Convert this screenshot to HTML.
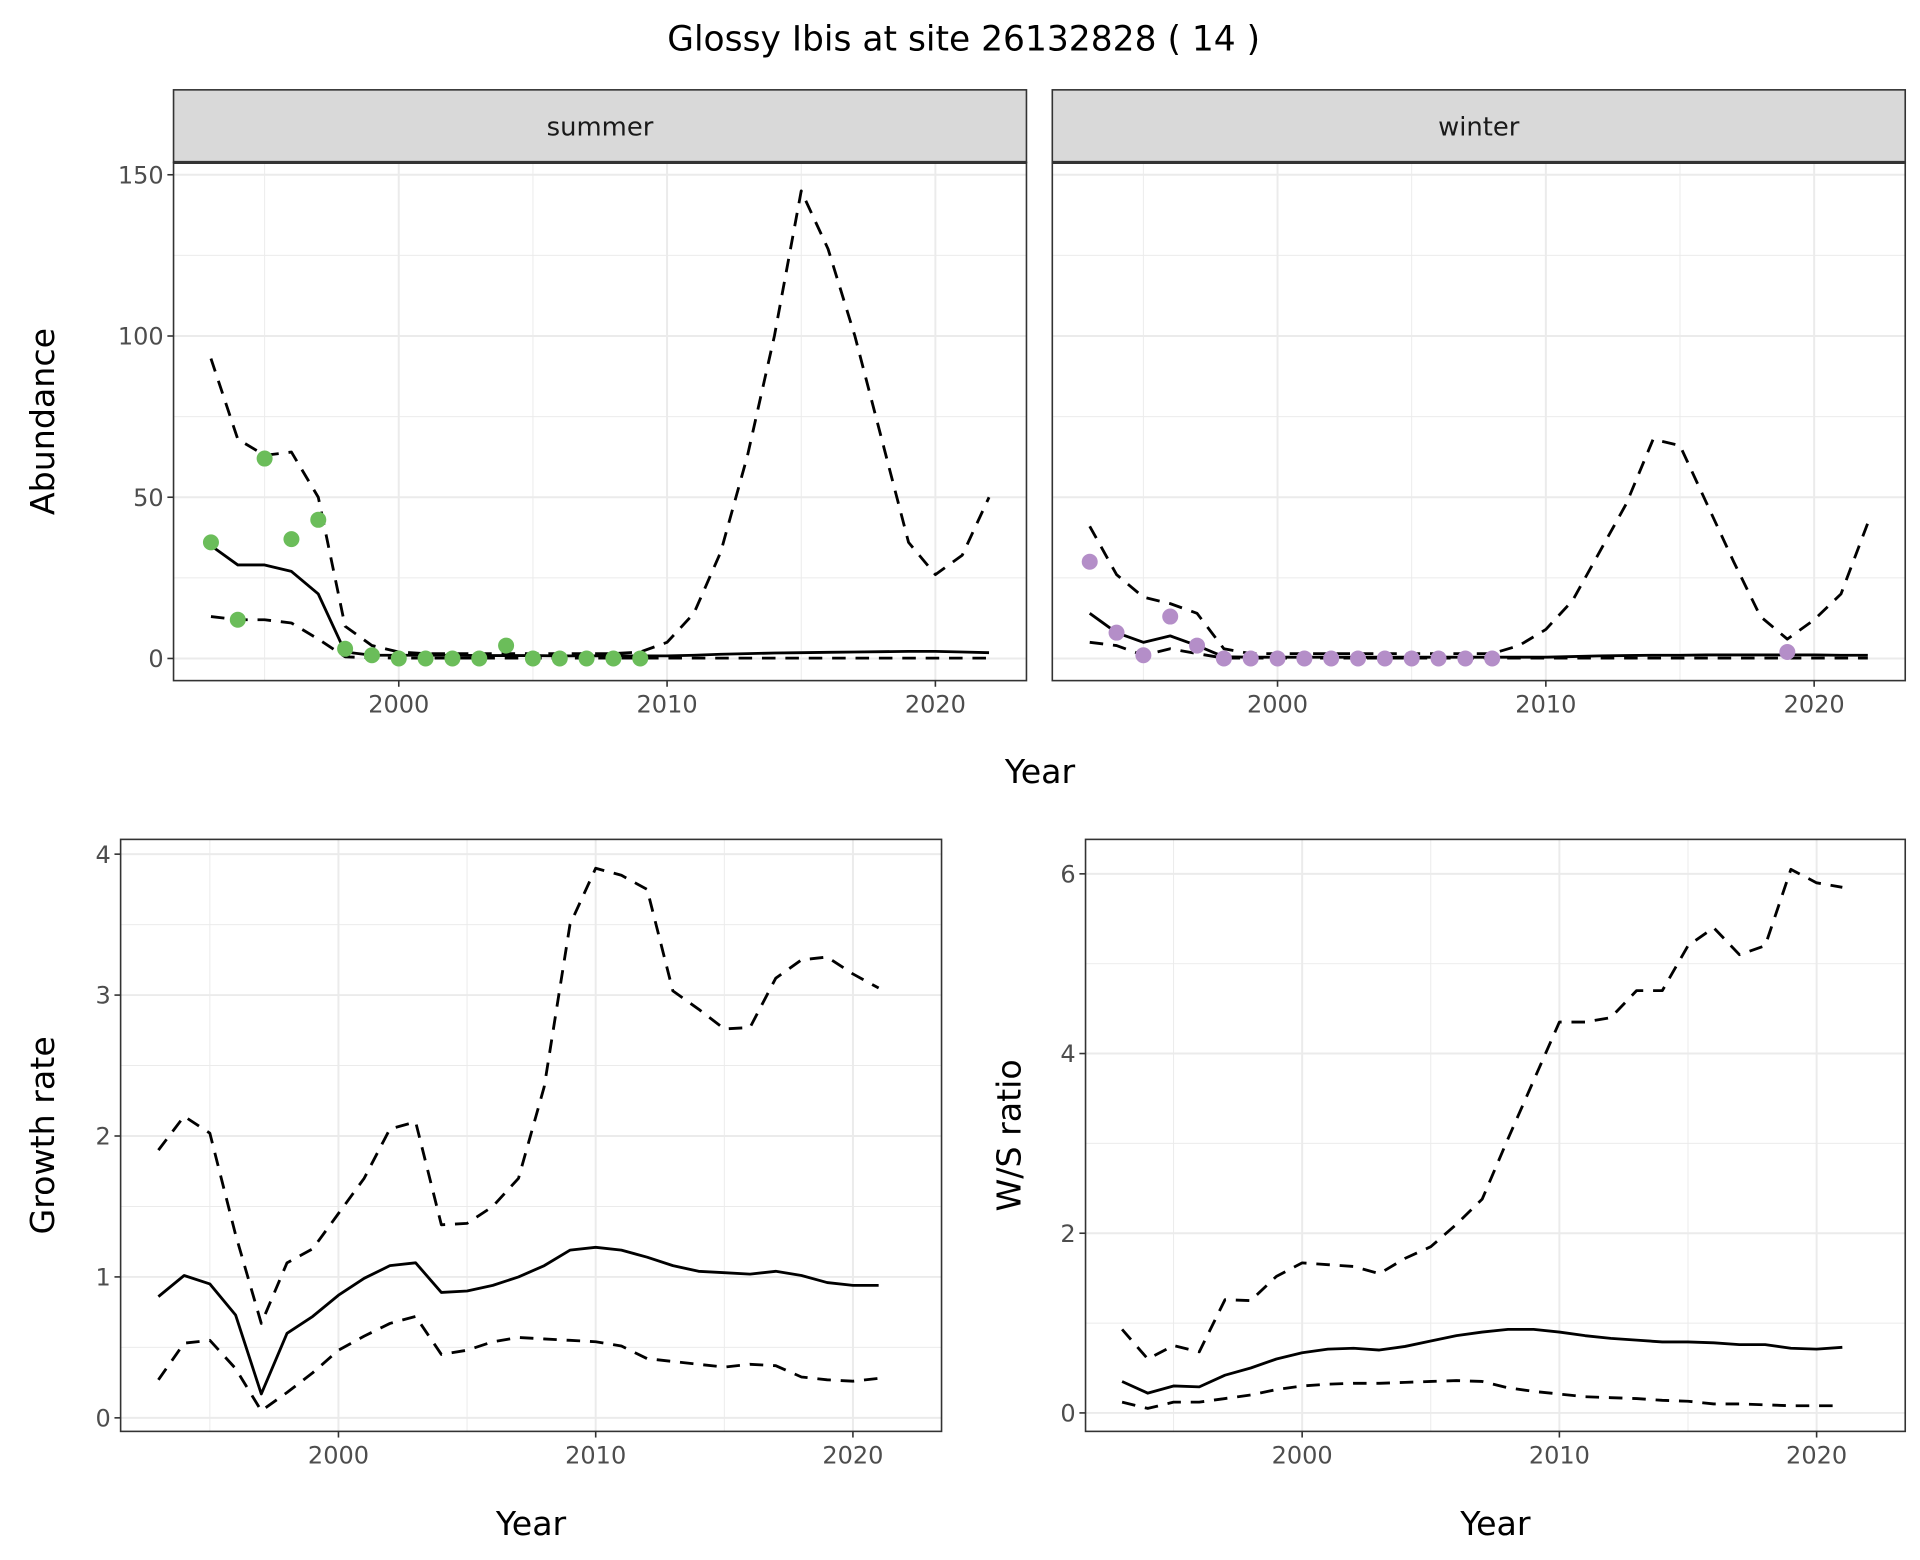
<!DOCTYPE html>
<html><head><meta charset="utf-8"><style>
html,body{margin:0;padding:0;background:#fff}
svg{display:block}
text{font-family:"DejaVu Sans","Liberation Sans",sans-serif}
</style></head><body>
<svg id="chart" width="1920" height="1560" viewBox="0 0 1560 1267.5" xmlns="http://www.w3.org/2000/svg">
<rect width="1560" height="1267.5" fill="#fff"/>
<text x="783" y="41" font-size="28" text-anchor="middle" fill="#000">Glossy Ibis at site 26132828 ( 14 )</text>
</svg>
<script>
const years = [];
for (let y = 1993; y <= 2022; y++) years.push(y);
const summerPtsYears = [1993,1994,1995,1996,1997,1998,1999,2000,2001,2002,2003,2004,2005,2006,2007,2008,2009];
const summerPts = [36,12,62,37,43,3,1,0,0,0,0,4,0,0,0,0,0];
const summerMean = [35,29,29,27,20,2,1,1,1,1,0.9,0.9,0.9,0.8,0.8,0.8,0.8,0.8,1.0,1.3,1.5,1.7,1.8,1.9,2.0,2.1,2.2,2.2,2.0,1.8];
const summerUpper = [93,68,63,64,50,10,4,2,1.5,1.5,1.5,1.5,1.5,1.5,1.5,1.5,2,5,14,33,63,100,145,127,100,68,36,26,32,50];
const summerLower = [13,12,12,11,6,0.5,0.2,0.1,0.1,0.1,0.1,0.1,0.1,0.1,0.1,0.1,0.1,0.1,0.1,0.1,0.1,0.1,0.1,0.1,0.1,0.1,0.1,0.1,0.1,0.1];
const winterPtsYears = [1993,1994,1995,1996,1997,1998,1999,2000,2001,2002,2003,2004,2005,2006,2007,2008,2019];
const winterPts = [30,8,1,13,4,0,0,0,0,0,0,0,0,0,0,0,2];
const winterMean = [14,8,5,7,4,0.5,0.4,0.4,0.4,0.4,0.4,0.4,0.4,0.4,0.4,0.4,0.4,0.4,0.6,0.8,0.9,1.0,1.0,1.1,1.1,1.1,1.1,1.1,1.0,1.0];
const winterUpper = [41,26,19,17,14,3,1.5,1.5,1.5,1.5,1.5,1.5,1.5,1.5,1.5,1.5,4,9,18,33,48,68,66,48,30,13,6,12,20,42];
const winterLower = [5,4,1,3,1.5,0.1,0.1,0.1,0.1,0.1,0.1,0.1,0.1,0.1,0.1,0.1,0.1,0.1,0.1,0.1,0.1,0.1,0.1,0.1,0.1,0.1,0.1,0.1,0.1,0.1];
const years2 = years.slice(0, 29);
const growthMean = [0.86,1.01,0.95,0.73,0.17,0.6,0.72,0.87,0.99,1.08,1.10,0.89,0.9,0.94,1.0,1.08,1.19,1.21,1.19,1.14,1.08,1.04,1.03,1.02,1.04,1.01,0.96,0.94,0.94];
const growthUpper = [1.90,2.14,2.02,1.30,0.67,1.10,1.20,1.45,1.70,2.05,2.10,1.37,1.38,1.50,1.70,2.35,3.50,3.90,3.85,3.75,3.03,2.90,2.76,2.77,3.12,3.25,3.27,3.15,3.05];
const growthLower = [0.27,0.53,0.55,0.35,0.05,0.18,0.32,0.48,0.58,0.67,0.72,0.45,0.48,0.54,0.57,0.56,0.55,0.54,0.51,0.42,0.40,0.38,0.36,0.38,0.37,0.29,0.27,0.26,0.28];
const wsMean = [0.35,0.22,0.30,0.29,0.42,0.50,0.60,0.67,0.71,0.72,0.70,0.74,0.80,0.86,0.90,0.93,0.93,0.90,0.86,0.83,0.81,0.79,0.79,0.78,0.76,0.76,0.72,0.71,0.73];
const wsUpper = [0.93,0.60,0.75,0.68,1.26,1.25,1.52,1.67,1.65,1.63,1.55,1.72,1.85,2.10,2.38,3.05,3.70,4.35,4.35,4.40,4.70,4.70,5.20,5.40,5.10,5.20,6.05,5.90,5.85];
const wsLower = [0.12,0.05,0.12,0.12,0.16,0.20,0.26,0.30,0.32,0.33,0.33,0.34,0.35,0.36,0.35,0.28,0.24,0.21,0.18,0.17,0.16,0.14,0.13,0.10,0.10,0.09,0.08,0.08,0.08];
const xTicks = [2000, 2010, 2020];
const xMinor = [1995, 2005, 2015];
const abTicks = [0, 50, 100, 150];
const abMinor = [25, 75, 125];
const grTicks = [0, 1, 2, 3, 4];
const grMinor = [0.5, 1.5, 2.5, 3.5];
const wsTicks = [0, 2, 4, 6];
const wsMinor = [1, 3, 5];

const svg = document.getElementById('chart');
const NS = 'http://www.w3.org/2000/svg';
function mk(tag, attrs, parent) {
  const e = document.createElementNS(NS, tag);
  for (const k in attrs) e.setAttribute(k, attrs[k]);
  (parent || svg).appendChild(e);
  return e;
}
function txt(s, attrs, parent) { const e = mk('text', attrs, parent); e.textContent = s; return e; }

function panel(p) {
  const g = mk('g', {});
  
  
  const X = v => p.x0px + (v - p.xa) / (p.xb - p.xa) * (p.x1px - p.x0px);
  const Y = v => p.y0px + (v - p.ya) / (p.yb - p.ya) * (p.y1px - p.y0px);
  p.yMinor.forEach(v => { mk('line', {x1:p.L, x2:p.R, y1:Y(v), y2:Y(v), stroke:'#ebebeb', 'stroke-width':0.8}, g); });
  p.xMinorT.forEach(v => { mk('line', {x1:X(v), x2:X(v), y1:p.T, y2:p.B, stroke:'#ebebeb', 'stroke-width':0.8}, g); });
  p.yTicks.forEach(v => { mk('line', {x1:p.L, x2:p.R, y1:Y(v), y2:Y(v), stroke:'#ebebeb', 'stroke-width':1.6}, g); });
  p.xTicksT.forEach(v => { mk('line', {x1:X(v), x2:X(v), y1:p.T, y2:p.B, stroke:'#ebebeb', 'stroke-width':1.6}, g); });
  function path(ys, xs, dash, name) {
    const d = ys.map((v, i) => (i ? 'L' : 'M') + X(xs[i]).toFixed(2) + ',' + Y(v).toFixed(2)).join('');
    const e = mk('path', {d:d, fill:'none', stroke:'#000', 'stroke-width':2.3, 'stroke-linejoin':'round'}, g);
    if (dash) e.setAttribute('stroke-dasharray', '11,8');
    
    
  }
  path(p.upper, p.xs, true, 'upper-ci-line');
  path(p.lower, p.xs, true, 'lower-ci-line');
  path(p.mean, p.xs, false, 'mean-line');
  if (p.pts) p.pts.forEach((v, i) => {
    const c = mk('circle', {cx:X(p.ptsX[i]), cy:Y(v), r:6.5, fill:p.color}, g);
    
    
  });
  mk('rect', {x:p.L, y:p.T, width:p.R - p.L, height:p.B - p.T, fill:'none', stroke:'#333', 'stroke-width':1.3}, g);
  if (p.showY) p.yTicks.forEach(v => {
    mk('line', {x1:p.L - 5, x2:p.L, y1:Y(v), y2:Y(v), stroke:'#333', 'stroke-width':1.3}, g);
    const t = txt(String(v), {x:p.L - 8, y:Y(v) + 7, 'font-size':19.5, 'text-anchor':'end', fill:'#4d4d4d'}, g);
    
    
  });
  p.xTicksT.forEach(v => {
    mk('line', {x1:X(v), x2:X(v), y1:p.B, y2:p.B + 5, stroke:'#333', 'stroke-width':1.3}, g);
    const t = txt(String(v), {x:X(v), y:p.B + 26, 'font-size':19.5, 'text-anchor':'middle', fill:'#4d4d4d'}, g);
    
    
  });
  if (p.strip) {
    mk('rect', {x:p.L, y:p.T - 59, width:p.R - p.L, height:59, fill:'#d9d9d9', stroke:'#333', 'stroke-width':1.3}, g);
    mk('line', {x1:p.L, x2:p.R, y1:p.T, y2:p.T, stroke:'#333', 'stroke-width':2.5}, g);
    const t = txt(p.strip, {x:(p.L + p.R) / 2, y:p.T - 22, 'font-size':21, 'text-anchor':'middle', fill:'#1a1a1a'}, g);
    
    
  }
  if (p.xTitle) {
    const t = txt('Year', {x:(p.L + p.R) / 2, y:1247, 'font-size':27, 'text-anchor':'middle', fill:'#000'}, g);
    
    
  }
  if (p.yTitle) {
    const cy = (p.T + p.B) / 2;
    const t = txt(p.yTitle, {x:p.yTitleX, y:cy + 9, 'font-size':27, 'text-anchor':'middle', fill:'#000', transform:'rotate(-90 ' + p.yTitleX + ' ' + cy + ')'}, g);
    
    
  }
}

panel({name:'summer-panel', L:141, R:834, T:132, B:553, x0px:324, x1px:542, xa:2000, xb:2010,
  y0px:535, y1px:404, ya:0, yb:50, yTicks:abTicks, yMinor:abMinor, xTicksT:xTicks, xMinorT:xMinor,
  xs:years, mean:summerMean, upper:summerUpper, lower:summerLower, pts:summerPts, ptsX:summerPtsYears,
  color:'#6bbd5a', showY:true, strip:'summer', yTitle:'Abundance', yTitleX:35});
panel({name:'winter-panel', L:855, R:1548, T:132, B:553, x0px:1038, x1px:1256, xa:2000, xb:2010,
  y0px:535, y1px:404, ya:0, yb:50, yTicks:abTicks, yMinor:abMinor, xTicksT:xTicks, xMinorT:xMinor,
  xs:years, mean:winterMean, upper:winterUpper, lower:winterLower, pts:winterPts, ptsX:winterPtsYears,
  color:'#b48ec8', showY:false, strip:'winter'});
panel({name:'growth-rate-panel', L:98, R:765, T:682, B:1163, x0px:275, x1px:484, xa:2000, xb:2010,
  y0px:1152, y1px:694, ya:0, yb:4, yTicks:grTicks, yMinor:grMinor, xTicksT:xTicks, xMinorT:xMinor,
  xs:years2, mean:growthMean, upper:growthUpper, lower:growthLower, showY:true, xTitle:true, yTitle:'Growth rate', yTitleX:35});
panel({name:'ws-ratio-panel', L:882, R:1548, T:682, B:1163, x0px:1058, x1px:1267, xa:2000, xb:2010,
  y0px:1148, y1px:710, ya:0, yb:6, yTicks:wsTicks, yMinor:wsMinor, xTicksT:xTicks, xMinorT:xMinor,
  xs:years2, mean:wsMean, upper:wsUpper, lower:wsLower, showY:true, xTitle:true, yTitle:'W/S ratio', yTitleX:820});
const yt = txt('Year', {x:845, y:636, 'font-size':27, 'text-anchor':'middle', fill:'#000'});


</script>
</body></html>
